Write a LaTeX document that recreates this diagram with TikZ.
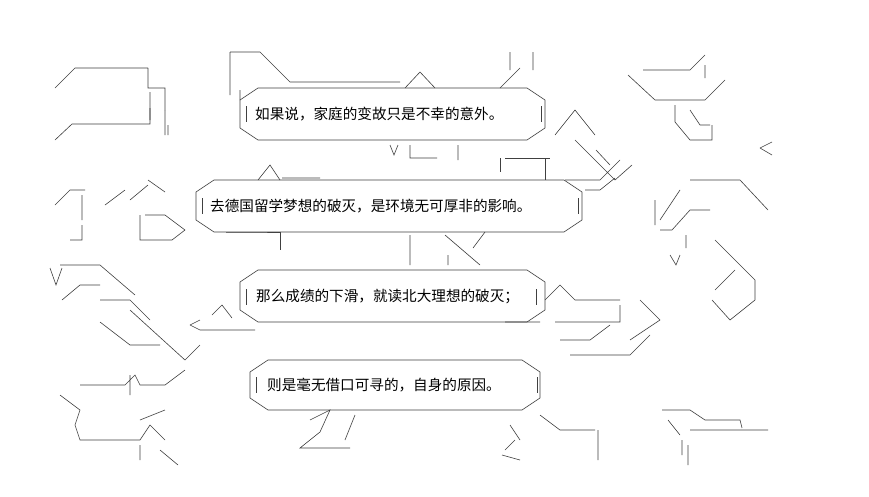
\documentclass[tikz,border=0pt]{standalone}
\usepackage{fontspec}
\newfontfamily\cjk{Noto Sans CJK SC}
\begin{document}
\begin{tikzpicture}[x=1pt,y=-1pt,
 art/.style={draw=black!75,line width=0.6pt},
 txt/.style={font=\cjk\fontsize{14.6}{16}\selectfont,anchor=west,inner sep=0pt}]
\useasboundingbox (0,0) rectangle (869,496);
\fill[white] (0,0) rectangle (869,496);
% chamfered boxes
\newcommand{\cbox}[4]{%
 \draw[art] (#1+18,#2) -- (#3-18,#2) -- (#3,#2+12) -- (#3,#4-12) -- (#3-18,#4) -- (#1+18,#4) -- (#1,#4-12) -- (#1,#2+12) -- cycle;}
\cbox{240}{88}{545}{140}
\cbox{196}{180}{582}{232}
\cbox{240}{270}{545}{322}
\cbox{250}{360}{540}{410}
\node[txt] (t1) at (255,114) {如果说，家庭的变故只是不幸的意外。};
\node[txt] (t2) at (210,206) {去德国留学梦想的破灭，是环境无可厚非的影响。};
\node[txt] (t3) at (256,297) {那么成绩的下滑，就读北大理想的破灭；};
\node[txt] (t4) at (267,385) {则是毫无借口可寻的，自身的原因。};
\draw[art] (246,106)--(246,122) (541,106)--(541,122);
\draw[art] (202,198)--(202,214) (578,198)--(578,214);
\draw[art] (246,289)--(246,305) (536,289)--(536,305);
\draw[art] (256,377)--(256,393) (537,377)--(537,393);
% top-left art
\draw[art] (55,88)--(75,68)--(148,68) (148,68)--(148,88)--(165,88)--(165,110) (150,92)--(150,120);
\draw[art] (55,140)--(72,124)--(150,124)--(150,108) (165,110)--(165,135) (168,125)--(168,135);
% top centre art
\draw[art] (230,52)--(230,95) (230,52)--(260,52)--(290,82)--(315,82) (290,82)--(400,82) (240,90)--(240,100);
\draw[art] (405,88)--(420,72)--(435,88) (510,52)--(510,70) (533,52)--(533,70) (500,88)--(520,68);
\draw[art] (390,145)--(394,155)--(398,145) (410,145)--(410,158)--(437,158) (458,145)--(458,160);
\draw[art] (500,158)--(500,172) (505,158)--(550,158) (545,158)--(545,180);
\draw[art] (258,180)--(270,165)--(280,180) (282,178)--(320,178);
% right of box1
\draw[art] (555,135)--(575,110)--(595,135) (575,140)--(615,180)--(632,165) (565,180)--(600,180)--(620,160);
\draw[art] (585,190)--(600,190)--(615,178) (596,150)--(610,165);
% top right
\draw[art] (643,70)--(690,70)--(705,55) (628,75)--(655,100)--(705,100)--(725,80) (705,65)--(705,78);
\draw[art] (675,105)--(675,122)--(690,140)--(712,140)--(712,125) (690,110)--(700,125)--(710,125);
\draw[art] (760,148)--(772,155) (760,148)--(772,142);
\draw[art] (690,180)--(740,180)--(768,210) (680,190)--(660,220) (655,200)--(655,225) (660,230)--(672,230)--(690,210)--(710,210);
\draw[art] (686,235)--(686,248) (670,255)--(676,265)--(680,255) (715,240)--(755,280)--(755,300)--(730,320)--(712,300) (735,270)--(715,290);
% left middle
\draw[art] (55,205)--(70,190)--(85,190) (82,195)--(82,220) (70,240)--(82,240)--(82,225) (105,205)--(125,190) (148,180)--(165,192) (130,200)--(148,185);
\draw[art] (140,215)--(140,240)--(172,240)--(185,230)--(165,215)--(145,215);
\draw[art] (50,268)--(56,285)--(62,268) (60,265)--(80,265)--(100,265)--(135,295) (62,300)--(80,285)--(100,285);
\draw[art] (100,300)--(130,300)--(150,320) (100,322)--(130,345)--(160,345) (130,310)--(185,360)--(200,345);
\draw[art] (190,325)--(200,320) (190,325)--(200,330) (200,330)--(255,330) (212,315)--(222,305)--(232,318);
\draw[art] (226,232)--(255,232)--(280,232) (280,232)--(280,250);
\draw[art] (410,235)--(410,265) (445,235)--(480,265) (473,248)--(485,232) (448,255)--(448,265);
% left lower
\draw[art] (80,385)--(125,385)--(135,375)--(140,385)--(165,385)--(185,370) (130,375)--(130,395);
\draw[art] (60,395)--(80,410)--(75,425)--(80,440)--(140,440)--(150,425)--(165,440) (140,420)--(165,410) (140,445)--(140,460) (160,450)--(178,465);
% right lower
\draw[art] (505,322)--(540,322) (545,300)--(560,285)--(575,300)--(620,300) (555,322)--(620,322)--(620,305) (640,300)--(660,320)--(630,340);
\draw[art] (560,340)--(590,340)--(610,325) (570,355)--(630,355)--(650,335);
\draw[art] (510,425)--(520,440) (505,450)--(515,440) (540,415)--(560,430)--(595,430) (598,430)--(598,460) (502,455)--(520,460);
\draw[art] (310,420)--(330,410)--(320,432)--(300,448)--(350,448) (355,415)--(345,440);
\draw[art] (662,410)--(690,410)--(705,420)--(740,420)--(742,428) (668,420)--(680,435) (682,440)--(682,455) (690,430)--(768,430) (688,445)--(688,465);
\end{tikzpicture}
\end{document}
